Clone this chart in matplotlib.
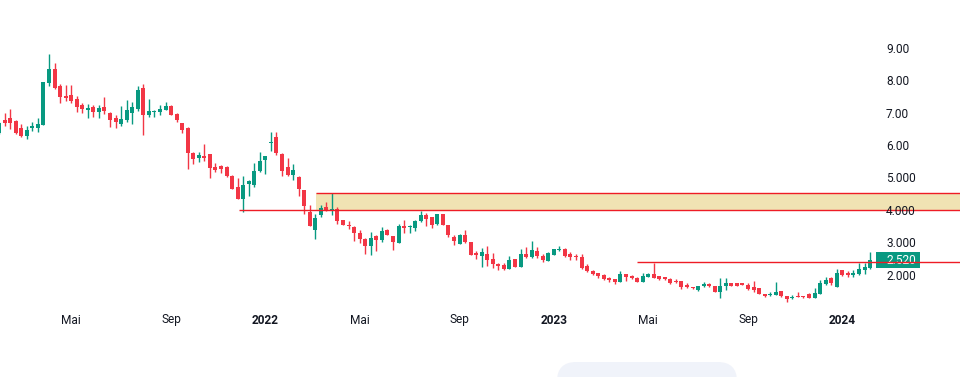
import matplotlib
matplotlib.use("Agg")
import matplotlib.pyplot as plt
import matplotlib.dates as mdates
from matplotlib.patches import FancyBboxPatch
import numpy as np
import pandas as pd

# ---- data (weekly candles) ----
start_date = "2021-02-01"
opens = [6.41, 6.80, 6.88, 6.78, 6.57, 6.32, 6.57, 6.57, 6.66, 7.96,
         8.39, 7.86, 7.56, 7.59, 7.46, 7.28, 7.12, 7.22, 7.06, 7.22,
         7.03, 6.88, 6.69, 6.81, 7.03, 7.15, 7.80, 6.97, 7.05, 7.06,
         7.12, 7.25, 7.00, 6.72, 6.57, 5.80, 5.64, 5.70, 5.77, 5.36,
         5.39, 5.36, 5.09, 4.75, 4.38, 4.84, 4.81, 5.24, 5.58, 6.12,
         6.29, 5.77, 5.36, 5.12, 5.05, 4.65, 3.98, 3.42, 3.88, 4.13,
         4.04, 4.07, 3.73, 3.57, 3.51, 3.33, 3.14, 2.93, 3.23, 3.11,
         3.42, 3.23, 3.02, 3.54, 3.51, 3.48, 3.70, 3.88, 3.82, 3.60,
         3.91, 3.57, 3.20, 2.99, 3.27, 3.05, 2.71, 2.62, 2.68, 2.52,
         2.37, 2.34, 2.22, 2.52, 2.28, 2.68, 2.59, 2.77, 2.62, 2.46,
         2.65, 2.80, 2.83, 2.68, 2.62, 2.59, 2.31, 2.15, 2.09, 2.03,
         1.94, 1.91, 1.81, 2.06, 2.00, 1.94, 1.81, 1.97, 2.06, 2.00,
         1.97, 1.91, 1.85, 1.85, 1.72, 1.66, 1.57, 1.69, 1.75, 1.69,
         1.51, 1.69, 1.78, 1.78, 1.78, 1.72, 1.66, 1.63, 1.44, 1.41,
         1.41, 1.54, 1.38, 1.32, 1.38, 1.38, 1.44, 1.32, 1.44, 1.75,
         1.94, 1.66, 2.19, 2.09, 2.03, 2.06, 2.19, 2.25]
highs = [6.75, 7.03, 7.15, 6.81, 6.69, 6.63, 6.75, 6.88, 7.99, 8.85,
         8.57, 7.93, 7.90, 7.90, 7.56, 7.34, 7.31, 7.28, 7.28, 7.52,
         7.06, 6.97, 7.25, 7.43, 7.37, 7.86, 7.93, 7.46, 7.12, 7.28,
         7.37, 7.28, 7.03, 6.72, 6.60, 5.83, 5.83, 6.07, 5.77, 5.49,
         5.43, 5.39, 5.12, 5.02, 5.09, 4.96, 5.49, 5.83, 5.70, 6.44,
         6.44, 5.80, 5.64, 5.46, 5.09, 4.65, 4.19, 3.91, 4.19, 4.28,
         4.56, 4.13, 3.73, 3.70, 3.54, 3.42, 3.17, 3.36, 3.27, 3.51,
         3.45, 3.23, 3.60, 3.73, 3.57, 3.73, 4.01, 3.94, 3.82, 3.91,
         3.91, 3.57, 3.27, 3.30, 3.42, 3.05, 2.77, 2.86, 2.93, 2.71,
         2.40, 2.40, 2.62, 2.52, 2.83, 2.90, 3.08, 2.90, 2.68, 2.74,
         2.83, 2.93, 2.86, 2.74, 2.68, 2.68, 2.37, 2.19, 2.09, 2.06,
         1.97, 1.91, 2.15, 2.06, 2.03, 1.97, 2.09, 2.09, 2.40, 2.00,
         1.97, 1.94, 1.91, 1.85, 1.78, 1.66, 1.69, 1.81, 1.78, 1.69,
         1.94, 1.94, 1.78, 1.78, 1.78, 1.78, 1.85, 1.63, 1.44, 1.51,
         1.81, 1.54, 1.38, 1.41, 1.51, 1.38, 1.47, 1.63, 1.88, 1.97,
         1.97, 2.22, 2.19, 2.15, 2.19, 2.40, 2.40, 2.74]
lows = [6.38, 6.63, 6.54, 6.38, 6.29, 6.23, 6.48, 6.44, 6.66, 7.86,
        7.77, 7.34, 7.40, 7.34, 7.06, 7.03, 6.88, 6.91, 6.88, 7.00,
        6.60, 6.57, 6.63, 6.75, 6.69, 7.09, 6.35, 6.91, 6.91, 6.97,
        7.12, 6.97, 6.75, 6.41, 5.30, 5.46, 5.52, 5.55, 5.02, 5.21,
        5.18, 5.05, 4.69, 4.38, 3.98, 4.47, 4.75, 5.21, 5.15, 5.86,
        5.73, 5.09, 5.09, 4.96, 4.47, 3.91, 3.54, 3.14, 3.82, 4.01,
        3.88, 3.60, 3.57, 3.45, 3.08, 3.02, 2.68, 2.65, 2.77, 3.05,
        3.27, 2.80, 3.02, 3.33, 3.33, 3.39, 3.67, 3.54, 3.48, 3.57,
        3.57, 3.20, 2.96, 2.99, 3.02, 2.65, 2.52, 2.28, 2.31, 2.25,
        2.19, 2.19, 2.22, 2.28, 2.28, 2.56, 2.56, 2.56, 2.43, 2.46,
        2.65, 2.77, 2.59, 2.49, 2.49, 2.22, 2.12, 2.03, 1.94, 1.88,
        1.81, 1.75, 1.81, 1.85, 1.91, 1.81, 1.81, 1.97, 1.94, 1.88,
        1.88, 1.75, 1.78, 1.60, 1.63, 1.60, 1.54, 1.66, 1.66, 1.51,
        1.32, 1.57, 1.69, 1.69, 1.72, 1.57, 1.51, 1.44, 1.35, 1.38,
        1.41, 1.35, 1.20, 1.29, 1.35, 1.32, 1.32, 1.32, 1.44, 1.72,
        1.72, 1.66, 2.00, 1.97, 1.97, 2.03, 2.06, 2.22]
closes = [6.72, 6.73, 6.72, 6.41, 6.32, 6.51, 6.63, 6.69, 7.99, 8.39,
          7.80, 7.52, 7.49, 7.40, 7.22, 7.15, 7.18, 7.06, 7.18, 7.09,
          6.81, 6.75, 6.84, 7.12, 7.22, 7.74, 6.97, 7.09, 7.07, 7.15,
          7.25, 6.97, 6.81, 6.51, 5.80, 5.61, 5.73, 5.64, 5.33, 5.27,
          5.30, 5.09, 4.69, 4.38, 4.81, 4.93, 5.24, 5.55, 5.70, 6.14,
          5.80, 5.24, 5.12, 5.27, 4.69, 4.16, 3.54, 3.79, 4.10, 4.04,
          4.07, 3.70, 3.57, 3.54, 3.33, 3.14, 2.93, 3.17, 3.11, 3.39,
          3.27, 3.05, 3.54, 3.48, 3.54, 3.70, 3.88, 3.76, 3.57, 3.91,
          3.57, 3.27, 3.08, 3.27, 3.05, 2.65, 2.65, 2.74, 2.49, 2.37,
          2.31, 2.22, 2.49, 2.28, 2.68, 2.59, 2.80, 2.62, 2.49, 2.71,
          2.83, 2.83, 2.62, 2.59, 2.59, 2.25, 2.15, 2.06, 2.00, 1.91,
          1.88, 1.81, 2.06, 1.97, 1.94, 1.81, 2.00, 2.06, 1.94, 1.91,
          1.91, 1.78, 1.81, 1.66, 1.66, 1.63, 1.69, 1.75, 1.69, 1.51,
          1.69, 1.78, 1.69, 1.69, 1.72, 1.60, 1.57, 1.44, 1.38, 1.44,
          1.51, 1.38, 1.29, 1.35, 1.35, 1.35, 1.32, 1.47, 1.78, 1.88,
          1.78, 2.09, 2.03, 2.03, 2.09, 2.22, 2.28, 2.49]

price_ticks = [9.0, 8.0, 7.0, 6.0, 5.0, 4.0, 3.0, 2.0]
price_tick_labels = ["9.00", "8.00", "7.00", "6.00", "5.000", "4.000", "3.000", "2.000"]
date_ticks = ["2021-05-03", "2021-09-06", "2022-01-03", "2022-05-02", "2022-09-05",
              "2023-01-02", "2023-05-01", "2023-09-04", "2024-01-01"]
date_tick_labels = ["Mai", "Sep", "2022", "Mai", "Sep", "2023", "Mai", "Sep", "2024"]

support_level = 4.03
zone_top = 4.55
recent_level = 2.44
last_price_label = "2.520"
last_price_pos = 2.49
support_start = "2021-12-01"
zone_start = "2022-03-08"
recent_start = "2023-04-17"

# ---- figure ----
W, H, DPI = 960, 377, 100
fig = plt.figure(figsize=(W / DPI, H / DPI), dpi=DPI)
ax = fig.add_axes([0, 0, 1, 1])
ax.set_axis_off()

dates = pd.date_range(start_date, periods=len(opens), freq="7D")
xd = mdates.date2num(dates)

px_per_day = 0.7925
anchor = mdates.date2num(pd.Timestamp("2022-03-07"))
anchor_px = 315.3
x0 = anchor - anchor_px / px_per_day
x1 = anchor + (W - anchor_px) / px_per_day
px_per_unit = 32.4
y_top = 2 + 276 / px_per_unit
y_bot = 2 - (H - 276) / px_per_unit
ax.set_xlim(x0, x1)
ax.set_ylim(y_bot, y_top)

green = "#089981"
red = "#F23645"
line_red = "#EE1C25"

o = np.array(opens); h = np.array(highs); l = np.array(lows); c = np.array(closes)
up = c >= o
cols = np.where(up, green, red)
body_w = 4.0 / px_per_day
min_h = 1.0 / px_per_unit
bottoms = np.minimum(o, c)
heights = np.maximum(np.abs(c - o), min_h)
ax.vlines(xd, l, h, colors=cols, linewidth=1.0, zorder=3)
ax.bar(xd, heights, bottom=bottoms, width=body_w, color=cols, linewidth=0, zorder=4)

# zone and levels
zs = mdates.date2num(pd.Timestamp(zone_start))
ax.fill_between([zs, x1], support_level, zone_top, color="#F0E3B3", zorder=1, linewidth=0)
ax.hlines(zone_top, zs, x1, colors=line_red, linewidth=1.0, zorder=5)
ax.hlines(support_level, mdates.date2num(pd.Timestamp(support_start)), x1,
          colors=line_red, linewidth=1.0, zorder=5)

# price axis labels
lab_x = x0 + 886 / px_per_day
for p, t in zip(price_ticks, price_tick_labels):
    ax.text(lab_x, p, t, ha="left", va="center", fontsize=8.6, color="#131722",
            family="Roboto", zorder=6)

# last price label
bx0 = x0 + 876 / px_per_day
bw = 44 / px_per_day
bh = 16 / px_per_unit
ax.add_patch(plt.Rectangle((bx0, last_price_pos - bh / 2), bw, bh, color=green, zorder=7,
                           linewidth=0))
ax.text(lab_x, last_price_pos, last_price_label, ha="left", va="center", fontsize=8.6,
        color="white", family="Roboto", zorder=8)
ax.hlines(recent_level, mdates.date2num(pd.Timestamp(recent_start)), x1,
          colors=line_red, linewidth=1.0, zorder=9)

# date axis labels
y_lab = 2 - (320 - 276) / px_per_unit
for d, t in zip(date_ticks, date_tick_labels):
    bold = t.isdigit()
    ax.text(mdates.date2num(pd.Timestamp(d)), y_lab, t, ha="center", va="center",
            fontsize=8.6, color="#131722", family="Roboto",
            fontweight="bold" if bold else "normal", zorder=6)

# bottom rounded box
box = FancyBboxPatch((557 / W, -20 / H), 180 / W, 35 / H,
                     boxstyle="round,pad=0,rounding_size=0.02",
                     transform=fig.transFigure, facecolor="#F0F3FA", edgecolor="none",
                     mutation_aspect=W / H)
fig.patches.append(box)

fig.savefig("out.png", dpi=DPI)
